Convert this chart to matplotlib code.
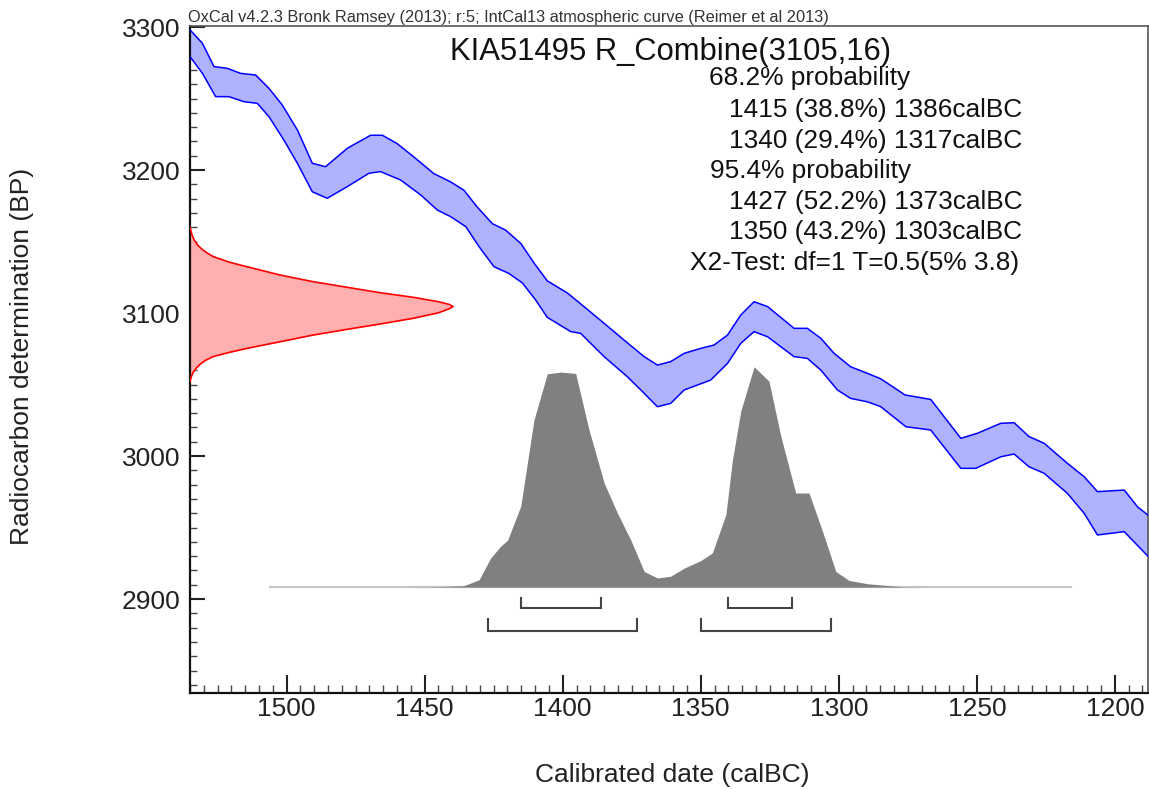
import numpy as np
import matplotlib
matplotlib.use("Agg")
import matplotlib.pyplot as plt
from matplotlib.ticker import MultipleLocator

plt.rcParams['font.family'] = ['Liberation Sans', 'DejaVu Sans']

# ---- calibration curve (IntCal13 band), upper and lower edges ----
curve_up_x = [1535, 1530.5, 1526.3, 1521.5, 1516.7, 1511.2, 1506.4, 1501.6, 1496.1, 1490.7,
              1485.9, 1478.0, 1469.6, 1465.3, 1460.0, 1453.9, 1446.7, 1440.6, 1435.8, 1431.0,
              1425.5, 1420.7, 1415.2, 1410.4, 1405.6, 1398.3, 1392.3, 1385.0, 1377.8, 1370.5,
              1365.7, 1360.9, 1356.0, 1350.0, 1345.2, 1340.3, 1335.5, 1330.7, 1325.8, 1316.2,
              1311.4, 1306.5, 1301.7, 1295.7, 1289.6, 1284.8, 1276.0, 1266.7, 1255.8, 1249.8,
              1241.3, 1236.5, 1231.1, 1225.6, 1217.2, 1211.1, 1206.3, 1196.6, 1191.8, 1187.3]
curve_up_y = [3298, 3288.6, 3272.3, 3271.1, 3267.6, 3266.4, 3257.1, 3245.5, 3228.0, 3204.7,
              3202.3, 3215.2, 3224.3, 3224.3, 3218.5, 3209.1, 3197.5, 3191.7, 3185.9, 3174.2,
              3162.5, 3158.0, 3148.7, 3135.0, 3122.5, 3114.0, 3104.5, 3092.8, 3081.1, 3069.5,
              3063.6, 3066.0, 3071.8, 3075.3, 3077.6, 3084.6, 3098.6, 3107.9, 3104.5, 3089.3,
              3089.3, 3082.3, 3071.8, 3062.4, 3057.8, 3054.0, 3042.7, 3039.6, 3012.4, 3015.9,
              3022.9, 3023.3, 3013.6, 3008.9, 2994.9, 2985.5, 2975.1, 2976.2, 2964.5, 2957.6]
curve_lo_x = [1535, 1530.5, 1525.7, 1520.9, 1515.5, 1510.6, 1506.4, 1501.0, 1496.1, 1490.7,
              1485.3, 1478.0, 1470.2, 1466.0, 1458.7, 1451.4, 1445.4, 1440.6, 1435.1, 1430.3,
              1424.9, 1419.5, 1414.6, 1409.8, 1405.6, 1397.1, 1393.5, 1385.0, 1376.6, 1371.7,
              1365.7, 1360.9, 1356.0, 1346.4, 1340.3, 1335.5, 1330.7, 1325.8, 1316.2, 1311.4,
              1306.5, 1300.5, 1295.7, 1289.6, 1284.8, 1275.7, 1266.7, 1255.8, 1250.4, 1241.3,
              1236.5, 1231.1, 1225.6, 1217.2, 1211.1, 1206.3, 1196.6, 1187.3]
curve_lo_y = [3279.3, 3267.6, 3251.3, 3251.3, 3247.8, 3246.6, 3237.3, 3221.0, 3204.7, 3184.8,
              3180.2, 3188.4, 3197.7, 3198.9, 3193.0, 3182.5, 3172.0, 3167.4, 3160.4, 3146.4,
              3132.4, 3127.7, 3121.0, 3109.1, 3097.0, 3087.0, 3085.8, 3069.5, 3055.5, 3046.2,
              3034.5, 3036.8, 3046.2, 3053.1, 3064.8, 3078.8, 3087.0, 3083.4, 3069.5, 3068.3,
              3060.1, 3046.2, 3040.3, 3037.9, 3034.5, 3020.5, 3018.2, 2991.4, 2991.4, 2999.5,
              3001.4, 2992.5, 2987.9, 2973.9, 2959.9, 2944.8, 2947.1, 2928.5]

# ---- radiocarbon determination (red) : BP value vs relative probability ----
rc_bp = [3160.0, 3157.0, 3154.0, 3151.0, 3148.0, 3145.0, 3142.0, 3139.4, 3135.5, 3132.4,
         3126.6, 3121.9, 3118.0, 3114.2, 3111.0, 3107.9, 3106.0, 3104.5, 3103.0, 3100.2,
         3096.3, 3092.3, 3088.6, 3084.6, 3079.9, 3075.3, 3072.5, 3069.5, 3067.0, 3064.5,
         3061.5, 3058.5, 3055.5, 3052.0]
rc_prob = [0.0, 0.004, 0.009, 0.016, 0.027, 0.043, 0.065, 0.089, 0.150, 0.216,
           0.342, 0.468, 0.597, 0.722, 0.848, 0.945, 0.985, 1.0, 0.985, 0.945,
           0.848, 0.722, 0.597, 0.468, 0.342, 0.217, 0.150, 0.087, 0.060, 0.040,
           0.024, 0.012, 0.005, 0.0]

# ---- calibrated date distribution (grey) ----
cal_x = [1458.7, 1445.4, 1435.8, 1430.3, 1426.1, 1422.5, 1420.0, 1415.2, 1412.8, 1410.4,
         1405.6, 1400.7, 1395.3, 1390.5, 1385.0, 1380.2, 1375.4, 1370.5, 1365.7, 1360.9,
         1356.0, 1350.0, 1345.8, 1340.9, 1338.5, 1335.5, 1330.7, 1325.3, 1321.0, 1315.6,
         1310.8, 1305.9, 1301.1, 1296.3, 1289.6, 1277.5, 1265.0]
cal_prob = [0.0, 0.0015, 0.006, 0.033, 0.132, 0.185, 0.212, 0.367, 0.564, 0.759,
            0.968, 0.976, 0.970, 0.715, 0.473, 0.336, 0.215, 0.071, 0.041, 0.049,
            0.086, 0.120, 0.155, 0.329, 0.579, 0.799, 1.0, 0.935, 0.685, 0.427,
            0.427, 0.253, 0.071, 0.030, 0.015, 0.0015, 0.0]
cal_range = [1506, 1216]

# ---- ranges ----
range_68 = [(1415, 1386), (1340, 1317)]
range_95 = [(1427, 1373), (1350, 1303)]

title = "KIA51495 R_Combine(3105,16)"
caption = "OxCal v4.2.3 Bronk Ramsey (2013); r:5; IntCal13 atmospheric curve (Reimer et al 2013)"
info_lines = ["68.2% probability",
              "1415 (38.8%) 1386calBC",
              "1340 (29.4%) 1317calBC",
              "95.4% probability",
              "1427 (52.2%) 1373calBC",
              "1350 (43.2%) 1303calBC",
              "X2-Test: df=1 T=0.5(5% 3.8)"]

# ---- figure ----
W, H = 1149, 790
fig = plt.figure(figsize=(W / 100, H / 100), dpi=100)
ax = fig.add_axes([190 / W, 1 - 693 / H, (1148 - 190) / W, (693 - 26) / H])
XL, XR = 1535, 1188
YB, YT = 2834.3, 3300.7
ax.set_xlim(XL, XR)
ax.set_ylim(YB, YT)

# calibration band
poly_x = list(curve_up_x) + list(curve_lo_x[::-1])
poly_y = list(curve_up_y) + list(curve_lo_y[::-1])
ax.fill(poly_x, poly_y, color='#AFB2FF', lw=0, zorder=2)
ax.plot(curve_up_x, curve_up_y, color='#0000FF', lw=1.1, zorder=3)
ax.plot(curve_lo_x, curve_lo_y, color='#0000FF', lw=1.1, zorder=3)

# red radiocarbon distribution along y
rc_scale = 95.3
rc_xvals = [XL - p * rc_scale for p in rc_prob]
ax.fill_betweenx(rc_bp, XL, rc_xvals, color='#FFAFAF', lw=0, zorder=2)
ax.plot(rc_xvals, rc_bp, color='#FF0000', lw=1.2, zorder=3)

# grey calibrated distribution
base = 2908.4
cal_scale = 154
ax.plot(cal_range, [base, base], color='#C8C8C8', lw=1.6, zorder=3)
cal_y = [base + p * cal_scale for p in cal_prob]
ax.fill_between(cal_x, base, cal_y, color='#808080', lw=0, zorder=4)

# range brackets
def bracket(x0, x1, yline, h):
    ax.plot([x0, x0, x1, x1], [yline + h, yline, yline, yline + h],
            color='#444444', lw=1.5, zorder=4, solid_joinstyle='miter')

for a, b in range_68:
    bracket(a, b, 2893.6, 6.8)
for a, b in range_95:
    bracket(a, b, 2877.5, 8.3)

# axes styling
ax.xaxis.set_major_locator(MultipleLocator(50))
ax.xaxis.set_minor_locator(MultipleLocator(5))
ax.yaxis.set_major_locator(MultipleLocator(100))
ax.yaxis.set_minor_locator(MultipleLocator(10))
ax.tick_params(axis='x', which='major', direction='in', length=13, width=1.5,
               labelsize=19, pad=3, colors='#222222', top=False)
ax.tick_params(axis='x', which='minor', direction='in', length=6, width=1.0,
               color='#444444', top=False)
ax.tick_params(axis='y', which='major', direction='in', length=11, width=1.5,
               labelsize=19, pad=7, colors='#222222', right=False)
ax.tick_params(axis='y', which='minor', direction='in', length=5, width=1.0,
               color='#444444', right=False)
for s in ['left', 'bottom']:
    ax.spines[s].set_linewidth(1.6)
    ax.spines[s].set_color('#111111')
for s in ['top', 'right']:
    ax.spines[s].set_linewidth(1.2)
    ax.spines[s].set_color('#555555')

fig.text(22 / W, 1 - 356 / H, "Radiocarbon determination (BP)", rotation=90,
         fontsize=19, color='#222222', ha='center', va='center')
fig.text(672 / W, 1 - 775 / H, "Calibrated date (calBC)", fontsize=19, color='#222222',
         ha='center', va='center')

# caption
fig.text(188 / W, 1 - 22 / H, caption, fontsize=11.8, color='#333333', ha='left',
         va='baseline')
# title
fig.text(670 / W, 1 - 60 / H, title, fontsize=22.3, color='#111111', ha='center',
         va='baseline')
# info block
info_x = [709, 729, 729, 710, 729, 729, 690]
info_y = [85, 117, 148, 178, 209, 239, 270]
for t, xx, yy in zip(info_lines, info_x, info_y):
    fig.text(xx / W, 1 - yy / H, t, fontsize=18.9, color='#111111', ha='left',
             va='baseline')

fig.savefig("out.png", dpi=100)
